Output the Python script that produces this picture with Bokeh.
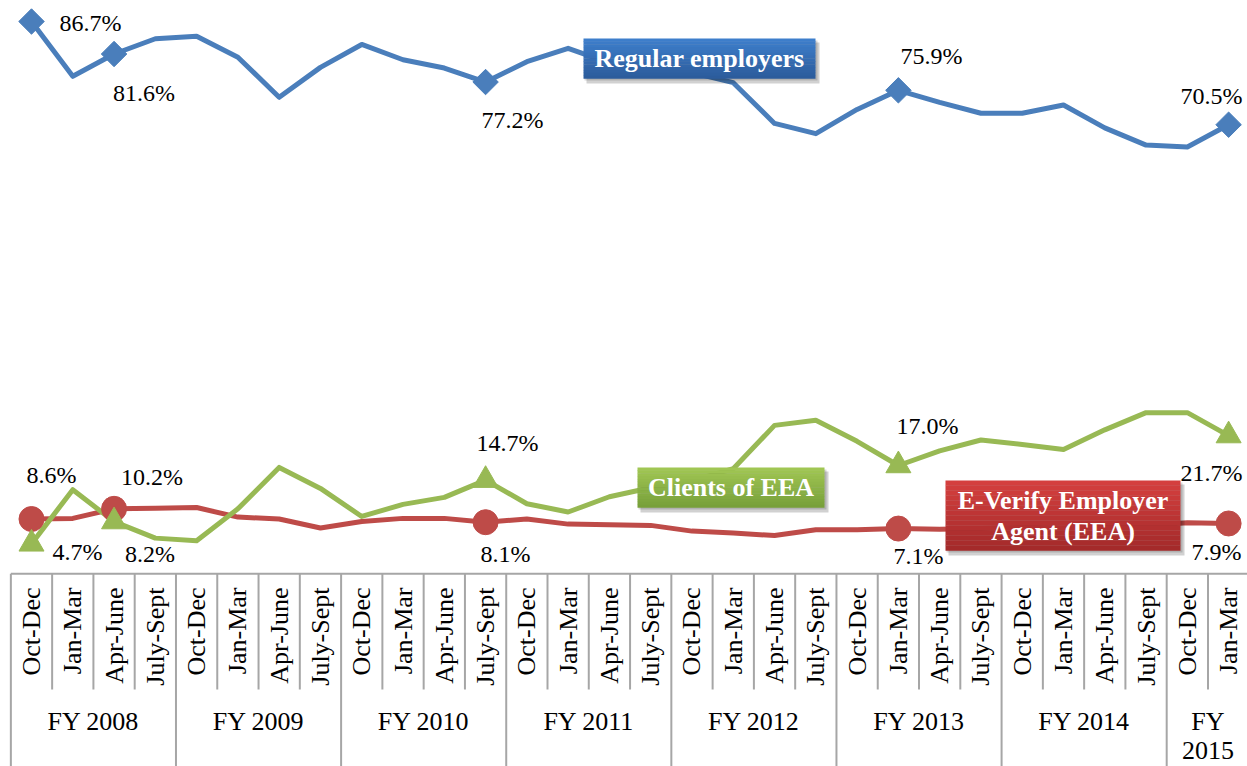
import numpy as np
from bokeh.plotting import figure
from bokeh.models import ColumnDataSource
from bokeh.core.properties import value
from bokeh.embed import file_html
from bokeh.resources import INLINE

# ---------------- data ----------------
quarters = ["Oct-Dec", "Jan-Mar", "Apr-June", "July-Sept"] * 7 + ["Oct-Dec", "Jan-Mar"]
fiscal_years = ["FY 2008", "FY 2009", "FY 2010", "FY 2011", "FY 2012",
                "FY 2013", "FY 2014", "FY\n2015"]
fy_quarter_counts = [4, 4, 4, 4, 4, 4, 4, 2]

regular_employers = [86.7, 78.1, 81.6, 84.0, 84.4, 81.1, 74.8, 79.5, 83.1, 80.7,
                     79.4, 77.2, 80.4, 82.5, 80.2, 78.9, 78.7, 77.1, 70.7, 69.1,
                     72.9, 75.9, 74.0, 72.3, 72.3, 73.6, 70.0, 67.3, 67.0, 70.5]
eea_agents = [8.6, 8.7, 10.2, 10.3, 10.4, 8.9, 8.6, 7.2, 8.2, 8.7,
              8.7, 8.1, 8.6, 7.8, 7.7, 7.6, 6.7, 6.4, 6.0, 6.9,
              6.9, 7.1, 7.0, 7.1, 7.3, 7.2, 7.4, 7.6, 8.0, 7.9]
eea_clients = [4.7, 13.2, 8.2, 5.6, 5.2, 10.2, 16.7, 13.4, 9.0, 10.9,
               12.0, 14.7, 11.0, 9.7, 12.1, 13.5, 14.6, 16.5, 23.3, 24.1,
               20.8, 17.0, 19.3, 21.0, 20.3, 19.5, 22.6, 25.3, 25.3, 21.7]
labeled_points = [0, 2, 11, 21, 29]

# label placement (screen px offsets from the marker, not data)
regular_lbl_dx = [59, 30, 27, 33, -17]
regular_lbl_dy = [1, 39, 38, -34, -29]
agents_lbl_dx = [20, 38, 20, 20, -12]
agents_lbl_dy = [-44, -32, 32, 27, 29]
clients_lbl_dx = [46, 36, 22, 29, -17]
clients_lbl_dy = [8, 32, -37, -40, 37]

# ---------------- layout constants ----------------
PX_CAT = 41.28      # px per quarter
PX_PCT = 6.37       # px per percentage point
W, H = 1247, 766
X0_PAGE, Y0_PAGE = 0, 0
x_start = -(31 - X0_PAGE) / PX_CAT
x_end = x_start + W / PX_CAT
y_end = (573.3 - Y0_PAGE) / PX_PCT
y_start = y_end - H / PX_PCT

def py(page_y):
    return (573.3 - page_y) / PX_PCT

def px(page_x):
    return (page_x - 31) / PX_CAT

SERIF = value("Liberation Serif")
BLUE, RED, GREEN = "#4A7EBB", "#BE4B48", "#98B954"
GRID = "#A6A6A6"

p = figure(width=W, height=H, x_range=(x_start, x_end), y_range=(y_start, y_end),
           output_backend="svg", toolbar_location=None,
           x_axis_location=None, y_axis_location=None,
           min_border=0, outline_line_color=None)
p.xgrid.visible = False
p.ygrid.visible = False
p.background_fill_color = "white"
p.border_fill_color = "white"

idx = np.arange(len(quarters))

# ---------------- category "table" axis ----------------
bounds = np.cumsum([0] + fy_quarter_counts) - 0.5
group_bounds = set(np.round(bounds, 2))
q_bounds = [k - 0.5 for k in range(len(quarters) + 1)]
short_x = [b for b in q_bounds if round(b, 2) not in group_bounds]
p.segment(x0=short_x, y0=[0] * len(short_x), x1=short_x, y1=[py(689)] * len(short_x),
          line_color=GRID, line_width=2)
full_x = [b for b in bounds]
p.segment(x0=full_x, y0=[0] * len(full_x), x1=full_x, y1=[y_start] * len(full_x),
          line_color=GRID, line_width=2)
p.segment(x0=[-0.5], y0=[0], x1=[x_end + 1], y1=[0], line_color=GRID, line_width=2)

p.text(x=idx, y=[py(587)] * len(idx), text=quarters, angle=np.pi / 2,
       text_align="right", text_baseline="middle", text_font=SERIF,
       text_font_size="26px", text_color="black")

fy_x, fy_y, fy_t = [], [], []
for start, n, lab in zip(bounds[:-1], fy_quarter_counts, fiscal_years):
    for li, line in enumerate(lab.split("\n")):
        fy_x.append(start + n / 2)
        fy_y.append(py(721 + 29 * li))
        fy_t.append(line)
p.text(x=fy_x, y=fy_y, text=fy_t, text_align="center", text_baseline="middle",
       text_font=SERIF, text_font_size="26px", text_color="black")

# ---------------- series lines ----------------
for vals, col in [(regular_employers, BLUE), (eea_agents, RED), (eea_clients, GREEN)]:
    p.line(idx, vals, line_color=col, line_width=5, line_join="round")

def sel(vals):
    return [vals[i] for i in labeled_points]

p.scatter(labeled_points, sel(regular_employers), marker="square", angle=np.pi / 4,
          size=18, fill_color=BLUE, line_color=BLUE)
p.scatter(labeled_points, sel(eea_agents), marker="circle", size=25,
          fill_color=RED, line_color=RED)
p.scatter(labeled_points, sel(eea_clients), marker="triangle", size=25,
          fill_color=GREEN, line_color=GREEN)

# ---------------- value labels ----------------
for vals, dx, dy in [(regular_employers, regular_lbl_dx, regular_lbl_dy),
                     (eea_agents, agents_lbl_dx, agents_lbl_dy),
                     (eea_clients, clients_lbl_dx, clients_lbl_dy)]:
    src = ColumnDataSource(dict(x=labeled_points, y=sel(vals),
                                t=[f"{v:.1f}%" for v in sel(vals)], dx=dx, dy=dy))
    p.text(x="x", y="y", text="t", x_offset="dx", y_offset="dy", source=src,
           text_align="center", text_baseline="middle", text_font=SERIF,
           text_font_size="24px", text_color="black")

# ---------------- series name boxes ----------------
def hexmix(c1, c2, t):
    a = [int(c1[i:i + 2], 16) for i in (1, 3, 5)]
    b = [int(c2[i:i + 2], 16) for i in (1, 3, 5)]
    return "#" + "".join(f"{int(round(a[k] + (b[k] - a[k]) * t)):02x}" for k in range(3))

def name_box(left, top, right, bottom, c_top, c_bot, lines):
    # shadow
    p.quad(left=px(left + 3), right=px(right + 4), top=py(top + 4), bottom=py(bottom + 5),
           fill_color="black", fill_alpha=0.18, line_color=None)
    p.quad(left=px(left + 1), right=px(right + 2), top=py(top + 2), bottom=py(bottom + 2),
           fill_color="black", fill_alpha=0.15, line_color=None)
    n = 14
    hgt = bottom - top
    for k in range(n):
        t0 = top + hgt * k / n
        t1 = top + hgt * (k + 1) / n
        p.quad(left=px(left), right=px(right), top=py(t0), bottom=py(t1 + 0.3),
               fill_color=hexmix(c_top, c_bot, k / (n - 1)), line_color=None)
    cx = (left + right) / 2
    m = len(lines)
    cy = (top + bottom) / 2
    ys = [py(cy + (li - (m - 1) / 2) * 31) for li in range(m)]
    p.text(x=[px(cx)] * m, y=ys, text=lines, text_align="center", text_baseline="middle",
           text_font=SERIF, text_font_style="bold", text_font_size="26px",
           text_color="white")

name_box(583, 38, 815, 78, "#3D7ECB", "#2C5C9C", ["Regular employers"])
name_box(637, 467, 824, 507, "#A0C653", "#78A03A", ["Clients of EEA"])
name_box(945, 480, 1180, 550, "#D43F3E", "#A42A2A", ["E-Verify Employer", "Agent (EEA)"])

open("out.html", "w").write(file_html(p, INLINE))
